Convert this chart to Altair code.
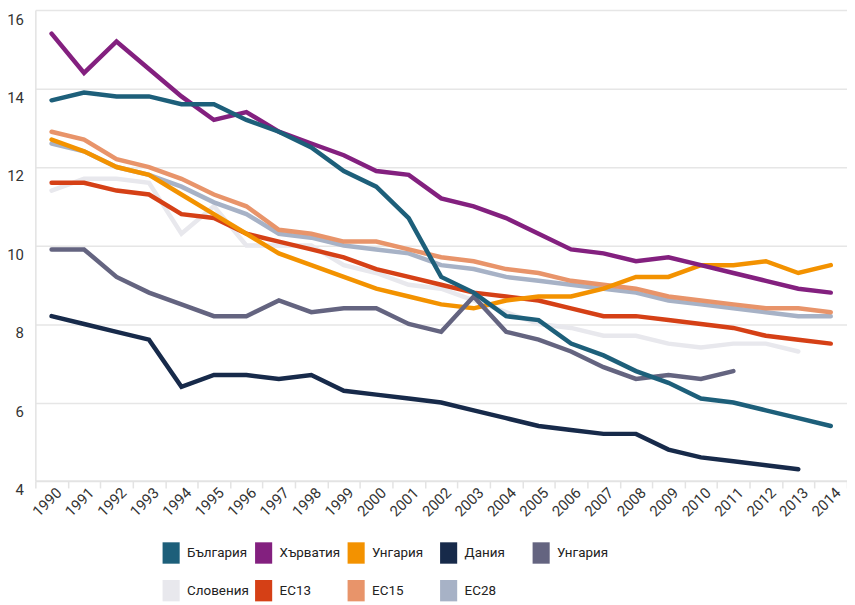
import altair as alt
import pandas as pd

years = list(range(1990, 2015))

series_names = ["България", "Хърватия", "Унгария", "Дания", "Унгария ",
                "Словения", "ЕС13", "ЕС15", "ЕС28"]
series_colors = ["#1d5f7a", "#83207f", "#f39200", "#172a4a", "#646480",
                 "#e8e8ed", "#d54016", "#e8946a", "#a7b2c6"]
# drawing order (bottom to top)
draw_rank = [8, 7, 4, 5, 6, 0, 3, 2, 1]

bulgaria = [13.7, 13.9, 13.8, 13.8, 13.6, 13.6, 13.2, 12.9, 12.5, 11.9, 11.5, 10.7, 9.2,
            8.8, 8.2, 8.1, 7.5, 7.2, 6.8, 6.5, 6.1, 6.0, 5.8, 5.6, 5.4]
croatia = [15.4, 14.4, 15.2, 14.5, 13.8, 13.2, 13.4, 12.9, 12.6, 12.3, 11.9, 11.8, 11.2,
           11.0, 10.7, 10.3, 9.9, 9.8, 9.6, 9.7, 9.5, 9.3, 9.1, 8.9, 8.8]
hungary = [12.7, 12.4, 12.0, 11.8, 11.3, 10.8, 10.3, 9.8, 9.5, 9.2, 8.9, 8.7, 8.5,
           8.4, 8.6, 8.7, 8.7, 8.9, 9.2, 9.2, 9.5, 9.5, 9.6, 9.3, 9.5]
denmark = [8.2, 8.0, 7.8, 7.6, 6.4, 6.7, 6.7, 6.6, 6.7, 6.3, 6.2, 6.1, 6.0,
           5.8, 5.6, 5.4, 5.3, 5.2, 5.2, 4.8, 4.6, 4.5, 4.4, 4.3, None]
hungary2 = [9.9, 9.9, 9.2, 8.8, 8.5, 8.2, 8.2, 8.6, 8.3, 8.4, 8.4, 8.0, 7.8,
            8.7, 7.8, 7.6, 7.3, 6.9, 6.6, 6.7, 6.6, 6.8, None, None, None]
slovenia = [11.4, 11.7, 11.7, 11.6, 10.3, 11.0, 10.0, 10.0, 10.0, 9.5, 9.3, 9.0, 8.9,
            8.6, 8.3, 8.0, 7.9, 7.7, 7.7, 7.5, 7.4, 7.5, 7.5, 7.3, None]
eu13 = [11.6, 11.6, 11.4, 11.3, 10.8, 10.7, 10.3, 10.1, 9.9, 9.7, 9.4, 9.2, 9.0,
        8.8, 8.7, 8.6, 8.4, 8.2, 8.2, 8.1, 8.0, 7.9, 7.7, 7.6, 7.5]
eu15 = [12.9, 12.7, 12.2, 12.0, 11.7, 11.3, 11.0, 10.4, 10.3, 10.1, 10.1, 9.9, 9.7,
        9.6, 9.4, 9.3, 9.1, 9.0, 8.9, 8.7, 8.6, 8.5, 8.4, 8.4, 8.3]
eu28 = [12.6, 12.4, 12.0, 11.8, 11.5, 11.1, 10.8, 10.3, 10.2, 10.0, 9.9, 9.8, 9.5,
        9.4, 9.2, 9.1, 9.0, 8.9, 8.8, 8.6, 8.5, 8.4, 8.3, 8.2, 8.2]

y_ticks = [4, 6, 8, 10, 12, 14, 16]

all_series = [bulgaria, croatia, hungary, denmark, hungary2, slovenia, eu13, eu15, eu28]
rows = []
for name, rank, vals in zip(series_names, draw_rank, all_series):
    for yr, v in zip(years, vals):
        if v is not None:
            rows.append({"year": yr, "value": v, "series": name, "rank": rank})
df = pd.DataFrame(rows).sort_values(["rank", "year"])

# helper table for the legend only (no drawable values)
legend_df = pd.DataFrame({"series": series_names, "year": [years[0]] * len(series_names),
                          "value": [None] * len(series_names)})

FONT = "Roboto"
RECT = "M-0.8,-1H0.8V1H-0.8Z"
SYM_SIZE = 462

x_enc = alt.X("year:O", bandPosition=0.5,
              scale=alt.Scale(type="band", paddingInner=0, paddingOuter=0),
              axis=alt.Axis(title=None, tickBand="extent", labelAngle=-45,
                            labelAlign="right", labelBaseline="middle",
                            labelOffset=7, labelPadding=2, tickSize=7,
                            tickColor="#e3e3e3", tickWidth=1.5,
                            domainColor="#e3e3e3", domainWidth=1.5,
                            labelFont=FONT, labelFontSize=15, labelColor="#333333",
                            grid=False))
y_enc = alt.Y("value:Q", scale=alt.Scale(domain=[4, 16], nice=False, zero=False),
              axis=alt.Axis(title=None, values=y_ticks, ticks=False,
                            labelPadding=12, labelBaseline="middle", labelOffset=9,
                            labelFont=FONT, labelFontSize=15, labelColor="#333333",
                            domainColor="#e3e3e3", domainWidth=1.5,
                            gridColor="#e6e6e6", gridWidth=1.5))
color_scale = alt.Scale(domain=series_names, range=series_colors)

lines = alt.Chart(df).mark_line(strokeWidth=4.5, strokeCap="round").encode(
    x=x_enc, y=y_enc,
    color=alt.Color("series:N", scale=color_scale, sort=series_names, legend=None),
    order=alt.Order("rank:Q"),
)

legend_layer = alt.Chart(legend_df).mark_point(
    shape=RECT, filled=True, opacity=1, strokeWidth=0
).encode(
    x=alt.X("year:O"), y=alt.Y("value:Q"),
    size=alt.value(SYM_SIZE),
    color=alt.Color("series:N", scale=color_scale, sort=series_names,
                    legend=alt.Legend(title=None, orient="none", legendX=125.5, legendY=534.7,
                                      direction="horizontal",
                                      columns=5, gridAlign="all", columnPadding=3,
                                      rowPadding=16,
                                      symbolType=RECT,
                                      symbolSize=SYM_SIZE, symbolStrokeWidth=0,
                                      symbolOpacity=1, labelOffset=5,
                                      labelFont=FONT, labelFontSize=13.5,
                                      labelColor="#222222", padding=0)),
)

chart = alt.layer(lines, legend_layer).resolve_legend(color="independent").properties(
    width=816, height=473.4
).configure(
    autosize=alt.AutoSizeParams(type="none"),
    padding={"left": 27.5, "top": 0.5, "right": 0, "bottom": 122},
    background="white",
).configure_view(stroke=None).configure_legend(symbolSize=SYM_SIZE, symbolType=RECT,
                                                gridAlign="all")

chart.save("out.html", embed_options={"renderer": "svg", "actions": False})
